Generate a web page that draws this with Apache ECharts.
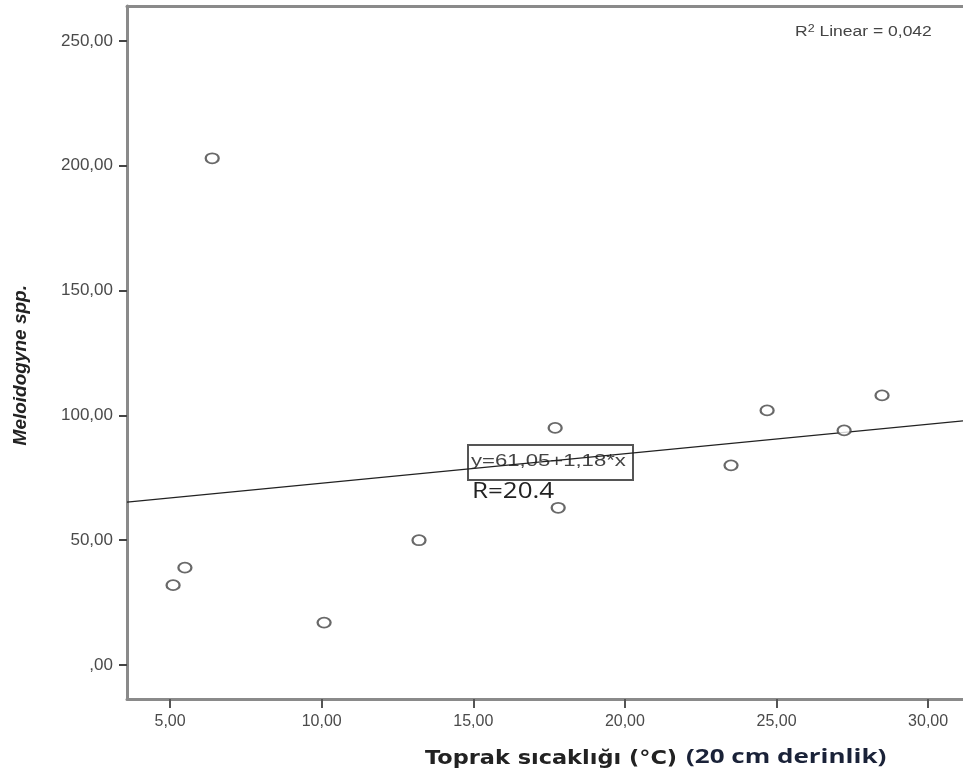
<!DOCTYPE html>
<html>
<head>
<meta charset="utf-8">
<script src="https://cdn.jsdelivr.net/npm/echarts@6/dist/echarts.min.js"></script>
<style>
  html, body { margin: 0; padding: 0; background: #fff; }
  #chart { width: 963px; height: 778px; }
</style>
</head>
<body>
<div id="chart"></div>
<script>
// soil temperature (x) vs Meloidogyne count (y)
const temps = [5.10, 5.49, 6.39, 10.08, 13.21, 17.70, 17.80, 23.50, 24.69, 27.23, 28.48];
const counts = [32, 39, 203, 17, 50, 95, 63, 80, 102, 94, 108];
const xTicks = [5, 10, 15, 20, 25, 30];
const yTicks = [0, 50, 100, 150, 200, 250];
const fitIntercept = 61.05;
const fitSlope = 1.18;

const xMin = 3.58, xMax = 31.15;
const yMin = -13.6, yMax = 264;

const fmt = v => v === 0 ? ',00' : v.toFixed(2).replace('.', ',');
const fitLine = [xMin, xMax].map(x => [x, fitIntercept + fitSlope * x]);

const chart = echarts.init(document.getElementById('chart'));
const font = '"Liberation Sans", Arial, sans-serif';
const frame = { show: true, onZero: false, lineStyle: { color: '#8a8a8a', width: 3 } };

chart.setOption({
  animation: false,
  textStyle: { fontFamily: font },
  grid: { left: 127, right: 0, top: 6, bottom: 79 },
  xAxis: [
    {
      type: 'value', min: xMin, max: xMax,
      axisLine: frame,
      axisTick: { show: true, length: 9, customValues: xTicks, lineStyle: { color: '#555', width: 2 } },
      axisLabel: { customValues: xTicks, formatter: fmt, color: '#4a4a4a', fontSize: 16, margin: 15 },
      splitLine: { show: false }
    },
    {
      // top frame line only
      type: 'value', position: 'top', min: xMin, max: xMax,
      axisLine: frame, axisTick: { show: false }, axisLabel: { show: false }, splitLine: { show: false }
    }
  ],
  yAxis: {
    type: 'value', min: yMin, max: yMax,
    axisLine: frame,
    axisTick: { show: true, length: 8, customValues: yTicks, lineStyle: { color: '#444', width: 2 } },
    axisLabel: { customValues: yTicks, formatter: fmt, color: '#4a4a4a', fontSize: 17, margin: 14 },
    splitLine: { show: false }
  },
  series: [
    {
      type: 'line',
      data: fitLine,
      symbol: 'none',
      lineStyle: { color: '#222', width: 1.3 },
      z: 1
    },
    {
      type: 'scatter',
      data: temps.map((t, i) => [t, counts[i]]),
      symbol: 'circle',
      symbolSize: [13, 10],
      itemStyle: { color: '#fff', borderColor: '#444', borderWidth: 2 },
      z: 3
    }
  ],
  graphic: [
    {
      type: 'text', x: 795, y: 24, scaleX: 1.25,
      style: {
        text: '{r|R}{s|2}{r| Linear = 0,042}',
        rich: {
          r: { fontSize: 14, fill: '#444', fontFamily: font },
          s: { fontSize: 10, fill: '#444', fontFamily: font, verticalAlign: 'top', padding: [0, 0, 6, 0] }
        }
      }
    },
    {
      type: 'group', left: 467, top: 444, z: 10,
      children: [
        { type: 'rect', shape: { x: 0, y: 0, width: 165, height: 35 },
          style: { fill: '#fff', stroke: '#555', lineWidth: 2 } },
        { type: 'text', x: 3, y: 8, scaleX: 1.3,
          style: { text: 'y=61,05+1,18*x', fontSize: 17, fill: '#444', fontFamily: font } }
      ]
    },
    {
      type: 'text', x: 472, y: 481, z: 10, scaleX: 1.18,
      style: { text: 'R=20.4', fontSize: 22, fill: '#222', fontFamily: '"Open Sans", sans-serif' }
    },
    {
      type: 'text', left: 11, top: 285, rotation: Math.PI / 2, originX: 0, originY: 0,
      style: {
        text: 'Meloidogyne spp.', fontSize: 19, fontWeight: 'bold', fontStyle: 'italic',
        fill: '#222', fontFamily: font, align: 'center', verticalAlign: 'middle'
      }
    },
    {
      type: 'text', x: 425, y: 750, scaleX: 1.18,
      style: { text: 'Toprak sıcaklığı (°C)', fontSize: 19, fontWeight: 'bold', fill: '#222',
        fontFamily: '"DejaVu Sans", sans-serif' }
    },
    {
      type: 'text', x: 686, y: 747, scaleX: 1.3,
      style: { text: '(20 cm derinlik)', fontSize: 20, fontWeight: 'bold', fill: '#1a2238',
        fontFamily: '"Open Sans", sans-serif' }
    }
  ]
});
</script>
</body>
</html>
